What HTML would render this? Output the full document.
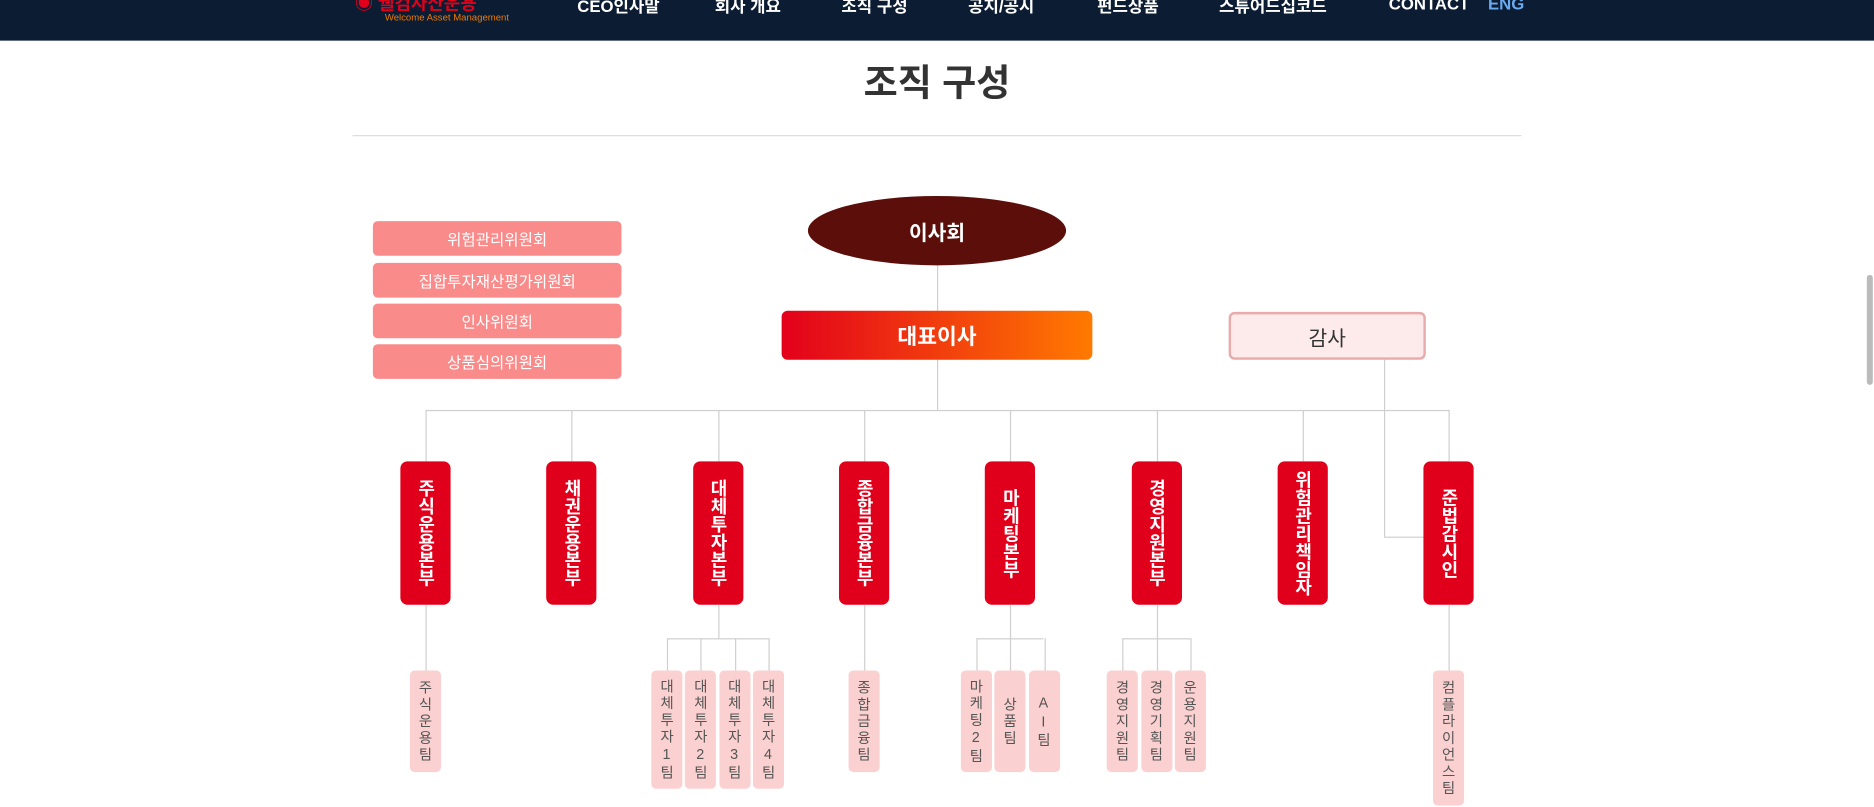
<!DOCTYPE html>
<html><head><meta charset="utf-8"><style>
*{margin:0;padding:0;box-sizing:border-box}
body{width:1874px;height:807px;overflow:hidden;background:#fff;font-family:"Liberation Sans","Noto Sans CJK KR",sans-serif}
#s{position:absolute;left:0;top:0;width:1568px;height:675px;transform:scale(1.19515);transform-origin:0 0}
.a{position:absolute}
.nav{left:0;top:0;width:1568px;height:34px;background:#0b1c33}
.mi{top:-5px;color:#fff;font-weight:bold;font-size:14px;white-space:nowrap}
.ln{position:absolute;background:#cfcfcf}
.cm{left:312px;width:208px;height:29px;background:#f98b8b;border-radius:4px;color:#fff;font-size:13px;display:flex;align-items:center;justify-content:center}
.dp{width:42px;height:120px;top:386px;background:#e0001b;border-radius:6px;color:#fff;font-weight:bold;font-size:15px;writing-mode:vertical-rl;text-orientation:upright;display:flex;align-items:center;justify-content:center;letter-spacing:0px}
.tm{width:26px;top:561px;background:#fbd0d0;border-radius:4px;color:#555;font-size:12px;writing-mode:vertical-rl;text-orientation:upright;display:flex;align-items:center;justify-content:center;letter-spacing:2px}
</style></head><body>
<div id="s">
<div class="a nav">
 <div class="a" style="left:297px;top:-8px;color:#e0001b;font-weight:bold;font-size:15px">◉ 웰컴자산운용</div>
 <div class="a" style="left:322px;top:10px;color:#f07a00;font-size:8px">Welcome Asset Management</div>
 <div class="a mi" style="left:483px">CEO인사말</div>
 <div class="a mi" style="left:598px">회사 개요</div>
 <div class="a mi" style="left:704px">조직 구성</div>
 <div class="a mi" style="left:810px">공지/공시</div>
 <div class="a mi" style="left:918px">펀드상품</div>
 <div class="a mi" style="left:1020px">스튜어드십코드</div>
 <div class="a mi" style="left:1162px">CONTACT</div>
 <div class="a mi" style="left:1245px;color:#6aaaf0">ENG</div>
</div>
<div class="a" style="left:1562px;top:230px;width:5px;height:92px;background:#bbb;border-radius:3px"></div>
<div class="a" style="left:0;width:1568px;top:44px;text-align:center;font-size:31px;font-weight:bold;color:#333">조직 구성</div>
<div class="a" style="left:295px;top:113px;width:978px;height:1px;background:#ddd"></div>

<div class="a cm" style="top:185px">위험관리위원회</div>
<div class="a cm" style="top:220px">집합투자재산평가위원회</div>
<div class="a cm" style="top:254px">인사위원회</div>
<div class="a cm" style="top:288px">상품심의위원회</div>

<div class="ln" style="left:784px;top:220px;width:1px;height:123px"></div>
<div class="ln" style="left:1158px;top:301px;width:1px;height:148px"></div>
<div class="ln" style="left:1158px;top:449px;width:34px;height:1px"></div>
<div class="ln" style="left:356px;top:343px;width:857px;height:1px"></div>

<div class="a" style="left:676px;top:164px;width:216px;height:58px;border-radius:50%;background:#5c0f0a;color:#fff;font-weight:bold;font-size:17px;display:flex;align-items:center;justify-content:center">이사회</div>
<div class="a" style="left:654px;top:260px;width:260px;height:41px;border-radius:5px;background:linear-gradient(90deg,#e3001b,#ff7a00);color:#fff;font-weight:bold;font-size:18px;display:flex;align-items:center;justify-content:center">대표이사</div>
<div class="a" style="left:1028px;top:261px;width:165px;height:40px;border-radius:5px;background:#fdeaea;border:2px solid #e8aaaa;color:#333;font-size:17px;display:flex;align-items:center;justify-content:center">감사</div>

<div id="org"></div>
</div>
<script>
const depts=["주식운용본부","채권운용본부","대체투자본부","종합금융본부","마케팅본부","경영지원본부","위험관리책임자","준법감시인"];
const teams=[["주식운용팀"],[],["대체투자1팀","대체투자2팀","대체투자3팀","대체투자4팀"],["종합금융팀"],["마케팅2팀","상품팀","AI팀"],["경영지원팀","경영기획팀","운용지원팀"],[],["컴플라이언스팀"]];
const org=document.getElementById('org');
function ln(l,t,w,h){const d=document.createElement('div');d.className='ln';d.style.cssText=`left:${l}px;top:${t}px;width:${w}px;height:${h}px`;


org.appendChild(d);}
depts.forEach((n,i)=>{
 const cx=356+i*122.3;
 ln(cx,343,1,43);
 const d=document.createElement('div');d.className='a dp';d.style.left=(cx-21)+'px';d.textContent=n;
 
 
 org.appendChild(d);
 const ts=teams[i];if(!ts.length)return;
 const sp=28.3,x0=cx-(ts.length-1)*sp/2;
 if(ts.length>1){ln(cx,506,1,28);ln(x0,534,(ts.length-1)*sp,1);}
 else ln(cx,506,1,55);
 ts.forEach((t,j)=>{
  const tx=x0+j*sp;
  if(ts.length>1)ln(tx,534,1,27);
  const e=document.createElement('div');e.className='a tm';e.style.left=(tx-13)+'px';
  e.style.height=Math.max(85,t.length*14+15)+'px';e.textContent=t;
  
  
  org.appendChild(e);
 });
});
</script>
</body></html>
